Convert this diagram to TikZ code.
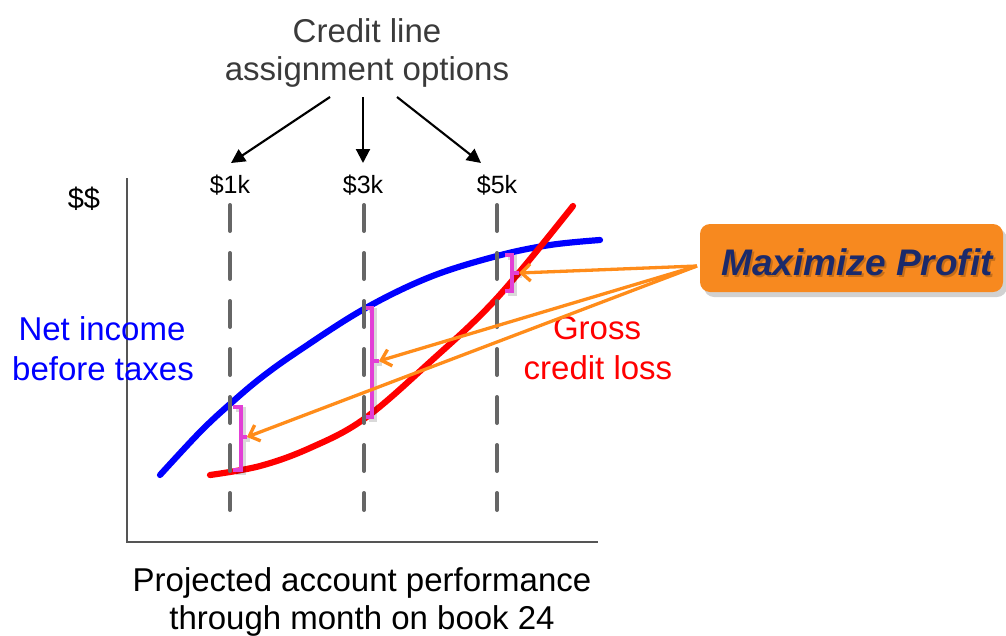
\documentclass[tikz,border=0pt]{standalone}
\usepackage{fontspec}
\setmainfont{Liberation Sans}
\usetikzlibrary{arrows.meta}
\definecolor{titlegray}{HTML}{3A3A3A}
\definecolor{dashgray}{HTML}{666666}
\definecolor{axisgray}{HTML}{555555}
\definecolor{netblue}{HTML}{0000FF}
\definecolor{lossred}{HTML}{FF0000}
\definecolor{brmag}{HTML}{E23FD6}
\definecolor{arrorange}{HTML}{FF8C1A}
\definecolor{boxorange}{HTML}{F7891F}
\definecolor{navy}{HTML}{1B2A6B}
\begin{document}
\begin{tikzpicture}[x=1pt,y=-1pt,
  bigtxt/.style={font=\fontsize{33}{38}\selectfont, anchor=base, inner sep=0pt},
  ticktxt/.style={font=\fontsize{25}{28}\selectfont, anchor=base, inner sep=0pt},
  optarrow/.style={draw=black, line width=2.1pt, -{Triangle[length=14pt,width=14pt]}},
  guide/.style={draw=dashgray, line width=4pt, line cap=round, dash pattern=on 26pt off 22pt},
  axisline/.style={draw=axisgray, line width=1.4pt},
  curve/.style={line width=6.2pt, line cap=round},
  bracket/.style={draw=brmag, line width=4.3pt, line join=miter},
  bshadow/.style={draw=black, opacity=0.15, line width=4.3pt},
  pointer/.style={draw=arrorange, line width=3.3pt, -{Straight Barb[length=9pt,width=17pt,line width=3.3pt]}},
]
\useasboundingbox (0,0) rectangle (1006,635);

% title
\node[bigtxt, text=titlegray] (t1) at (367,42) {Credit line};
\node[bigtxt, text=titlegray] (t2) at (367,80) {assignment options};

% option labels
\node[ticktxt] (k1) at (230,193) {\$1k};
\node[ticktxt] (k3) at (363,193) {\$3k};
\node[ticktxt] (k5) at (497,193) {\$5k};
\node[font=\fontsize{29}{32}\selectfont, anchor=base, inner sep=0pt] (dd) at (84,208) {\$\$};

% option arrows
\coordinate (s1) at (330,97); \coordinate (e1) at (231,163);
\coordinate (s3) at (363,97); \coordinate (e3) at (363,163);
\coordinate (s5) at (397,97); \coordinate (e5) at (481,163);
\draw[optarrow] (s1) -- (e1);
\draw[optarrow] (s3) -- (e3);
\draw[optarrow] (s5) -- (e5);

% axes
\coordinate (ytop) at (127,178);
\coordinate (orig) at (127,542);
\coordinate (xend) at (598,542);
\draw[axisline] (ytop) -- (orig) -- (xend);

% curves
\draw[curve, netblue] plot[smooth, tension=0.6] coordinates {(160,475) (200,432) (230,404) (262,377) (300,350) (364,309) (430,277) (497,256) (550,245) (600,240)};
\draw[curve, lossred] plot[smooth, tension=0.6] coordinates {(210,475) (260,466) (310,448) (364,419) (430,362) (497,298) (573,206)};

% guides
\coordinate (g1a) at (230,205); \coordinate (g1b) at (230,510);
\coordinate (g3a) at (364,205); \coordinate (g3b) at (364,510);
\coordinate (g5a) at (497,205); \coordinate (g5b) at (497,510);
\draw[guide] (g1a) -- (g1b);
\draw[guide] (g3a) -- (g3b);
\draw[guide] (g5a) -- (g5b);

% brackets (shadows then brackets)
\begin{scope}[shift={(2.5,2.5)}]
\draw[bshadow] (233,407) -- (241,407) -- (241,470) -- (233,470) (241,437) -- (247,437);
\draw[bshadow] (366,308) -- (372,308) -- (372,417) -- (366,417) (372,361) -- (379,361);
\draw[bshadow] (505,255) -- (512,255) -- (512,291) -- (505,291) (512,273) -- (519,273);
\end{scope}
\draw[bracket] (233,407) -- (241,407) -- (241,470) -- (233,470);
\draw[bracket] (241,437) -- (247,437) coordinate (p1);
\draw[bracket] (366,308) -- (372,308) -- (372,417) -- (366,417);
\draw[bracket] (372,361) -- (379,361) coordinate (p3);
\draw[bracket] (505,255) -- (512,255) -- (512,291) -- (505,291);
\draw[bracket] (512,273) -- (519,273) coordinate (p5);

% curve labels
\node[bigtxt, text=netblue] (n1) at (102,340) {Net income};
\node[bigtxt, text=netblue] (n2) at (103,380) {before taxes};
\node[bigtxt, text=lossred] (r1) at (597,339) {Gross};
\node[bigtxt, text=lossred] (r2) at (598,379) {credit loss};

% x label
\node[bigtxt] (x1) at (362,591) {Projected account performance};
\node[bigtxt] (x2) at (362,629) {through month on book 24};

% maximize box
\fill[black, opacity=0.18, rounded corners=10pt] (704,229) rectangle (1007,297);
\node[draw=none, fill=boxorange, rounded corners=10pt, minimum width=303pt, minimum height=68pt, inner sep=0pt] (mp) at (851.5,258) {};
\node[font=\fontsize{37}{40}\selectfont\bfseries\itshape, text=black, opacity=0.2, anchor=base, inner sep=0pt] (mpsh) at (859,277) {Maximize Profit};
\node[font=\fontsize{37}{40}\selectfont\bfseries\itshape, text=navy, anchor=base, inner sep=0pt] (mpt) at (857,275) {Maximize Profit};

% pointers
\coordinate (conv) at (697,266);
\draw[pointer] (conv) -- (p5);
\draw[pointer] (conv) -- (p3);
\draw[pointer] (conv) -- (p1);
\end{tikzpicture}
\end{document}
